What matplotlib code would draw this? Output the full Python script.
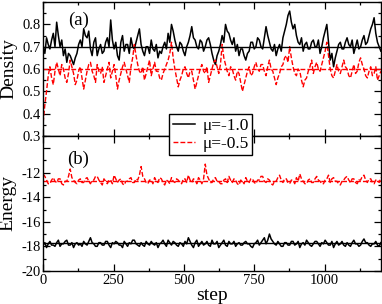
import numpy as np
import matplotlib
matplotlib.use('Agg')
import matplotlib.pyplot as plt
from matplotlib.ticker import MultipleLocator

plt.rcParams['font.family'] = ['Liberation Serif', 'DejaVu Serif']

# density traces, one value every 6 steps from 0 to 1200
dens_m10 = [0.70, 0.67, 0.74, 0.71, 0.69, 0.73, 0.76, 0.70, 0.81, 0.75, 0.70, 0.73, 0.66, 0.69, 0.63, 0.67, 0.66, 0.64, 0.62, 0.65,
            0.67, 0.71, 0.73, 0.70, 0.78, 0.75, 0.74, 0.77, 0.69, 0.66, 0.72, 0.74, 0.66, 0.69, 0.71, 0.67, 0.68, 0.72, 0.74, 0.70,
            0.82, 0.73, 0.69, 0.72, 0.66, 0.64, 0.72, 0.75, 0.68, 0.71, 0.71, 0.67, 0.74, 0.70, 0.69, 0.72, 0.75, 0.78, 0.71, 0.68,
            0.66, 0.70, 0.70, 0.67, 0.73, 0.69, 0.68, 0.71, 0.65, 0.68, 0.67, 0.70, 0.72, 0.69, 0.76, 0.72, 0.80, 0.77, 0.73, 0.70,
            0.68, 0.72, 0.71, 0.68, 0.66, 0.70, 0.72, 0.75, 0.79, 0.74, 0.73, 0.70, 0.69, 0.73, 0.72, 0.68, 0.70, 0.73, 0.74, 0.71,
            0.67, 0.64, 0.62, 0.66, 0.68, 0.71, 0.75, 0.72, 0.80, 0.77, 0.76, 0.73, 0.71, 0.74, 0.68, 0.71, 0.66, 0.69, 0.69, 0.66,
            0.64, 0.67, 0.68, 0.72, 0.72, 0.69, 0.70, 0.74, 0.73, 0.70, 0.69, 0.74, 0.79, 0.75, 0.72, 0.69, 0.68, 0.71, 0.66, 0.69,
            0.71, 0.68, 0.74, 0.77, 0.80, 0.84, 0.86, 0.81, 0.78, 0.80, 0.75, 0.72, 0.71, 0.74, 0.68, 0.71, 0.72, 0.69, 0.69, 0.72,
            0.73, 0.70, 0.70, 0.73, 0.67, 0.70, 0.74, 0.77, 0.80, 0.72, 0.64, 0.67, 0.61, 0.65, 0.68, 0.71, 0.72, 0.69, 0.69, 0.72,
            0.74, 0.71, 0.70, 0.73, 0.67, 0.70, 0.73, 0.69, 0.70, 0.73, 0.75, 0.71, 0.72, 0.75, 0.78, 0.80, 0.83, 0.76, 0.72, 0.70,
            0.68]
dens_m05 = [0.36, 0.44, 0.50, 0.57, 0.61, 0.56, 0.53, 0.59, 0.63, 0.60, 0.57, 0.62, 0.60, 0.56, 0.54, 0.58, 0.64, 0.61, 0.58, 0.53,
            0.55, 0.59, 0.61, 0.56, 0.51, 0.55, 0.59, 0.62, 0.63, 0.59, 0.57, 0.54, 0.62, 0.59, 0.58, 0.61, 0.54, 0.57, 0.60, 0.63,
            0.56, 0.59, 0.62, 0.57, 0.51, 0.55, 0.58, 0.61, 0.63, 0.60, 0.57, 0.54, 0.61, 0.65, 0.71, 0.66, 0.62, 0.59, 0.58, 0.61,
            0.55, 0.58, 0.61, 0.64, 0.57, 0.60, 0.63, 0.59, 0.59, 0.56, 0.55, 0.58, 0.60, 0.62, 0.64, 0.67, 0.72, 0.65, 0.60, 0.56,
            0.52, 0.55, 0.57, 0.60, 0.61, 0.58, 0.56, 0.59, 0.59, 0.55, 0.51, 0.54, 0.57, 0.60, 0.62, 0.59, 0.58, 0.61, 0.54, 0.57,
            0.60, 0.63, 0.64, 0.61, 0.58, 0.62, 0.71, 0.65, 0.62, 0.59, 0.57, 0.61, 0.60, 0.57, 0.55, 0.59, 0.58, 0.54, 0.50, 0.53,
            0.56, 0.59, 0.61, 0.57, 0.58, 0.61, 0.63, 0.60, 0.59, 0.62, 0.62, 0.59, 0.57, 0.61, 0.64, 0.60, 0.59, 0.56, 0.53, 0.56,
            0.58, 0.61, 0.62, 0.65, 0.66, 0.63, 0.70, 0.65, 0.61, 0.58, 0.57, 0.60, 0.59, 0.55, 0.52, 0.55, 0.56, 0.59, 0.61, 0.64,
            0.58, 0.61, 0.63, 0.60, 0.59, 0.62, 0.65, 0.68, 0.72, 0.66, 0.60, 0.57, 0.56, 0.59, 0.62, 0.59, 0.58, 0.61, 0.64, 0.61,
            0.60, 0.57, 0.56, 0.59, 0.62, 0.58, 0.59, 0.63, 0.65, 0.62, 0.60, 0.57, 0.56, 0.59, 0.61, 0.57, 0.58, 0.61, 0.55, 0.57,
            0.59]

# energy traces
ener_m10 = [-17.9, -17.7, -18.1, -17.8, -17.6, -17.9, -17.9, -18.0, -17.7, -17.5, -18.0, -17.8, -17.8, -17.6, -17.5, -17.9, -17.9, -17.7, -18.1, -17.8,
            -17.7, -17.9, -17.8, -18.0, -17.6, -17.8, -17.9, -17.6, -17.3, -17.7, -17.8, -18.0, -18.0, -17.7, -17.7, -17.9, -17.9, -17.6, -17.6, -17.9,
            -18.1, -17.7, -17.8, -17.6, -17.7, -17.9, -17.9, -18.1, -17.6, -17.8, -18.0, -17.7, -17.8, -17.5, -17.5, -17.8, -17.9, -18.0, -17.7, -17.9,
            -18.0, -17.6, -17.8, -17.9, -17.6, -17.8, -17.9, -17.7, -18.1, -17.8, -17.7, -17.5, -17.8, -18.0, -17.5, -17.7, -17.9, -17.6, -17.7, -17.9,
            -18.0, -17.7, -17.8, -18.0, -17.6, -17.8, -17.3, -17.6, -17.9, -18.1, -17.7, -17.5, -18.0, -17.8, -17.6, -17.9, -17.8, -17.6, -17.9, -18.0,
            -17.5, -17.8, -17.8, -17.6, -18.1, -17.9, -17.7, -17.5, -17.9, -18.0, -17.6, -17.8, -17.8, -17.6, -18.0, -17.8, -17.7, -17.9, -17.9, -17.7,
            -17.6, -17.8, -17.8, -18.0, -18.1, -17.8, -17.7, -17.5, -17.9, -17.7, -17.5, -17.3, -17.8, -17.5, -17.0, -17.4, -17.6, -17.8, -17.9, -17.6,
            -17.8, -18.0, -18.0, -17.7, -17.7, -17.9, -17.9, -17.6, -17.6, -17.9, -17.8, -17.6, -18.1, -17.8, -17.7, -17.9, -17.5, -17.7, -17.9, -18.0,
            -17.8, -17.6, -17.6, -17.8, -18.0, -17.7, -17.8, -17.5, -17.7, -17.9, -17.9, -17.6, -18.1, -17.8, -17.6, -17.9, -17.8, -17.6, -17.9, -18.0,
            -17.7, -17.9, -18.0, -17.7, -17.5, -17.8, -17.8, -18.0, -17.9, -17.6, -17.4, -17.7, -17.7, -17.9, -18.0, -17.8, -17.8, -17.6, -17.9, -18.0,
            -17.7]
ener_m05 = [-12.1, -12.3, -12.6, -12.9, -12.9, -12.6, -12.4, -12.7, -12.8, -12.5, -12.5, -12.9, -13.0, -12.7, -12.7, -12.3, -11.7, -12.4, -12.6, -12.8,
            -12.9, -12.6, -12.5, -12.8, -12.8, -12.5, -12.4, -12.7, -12.9, -12.6, -12.6, -12.3, -12.3, -12.6, -12.8, -13.0, -12.5, -12.7, -12.9, -12.6,
            -12.6, -12.9, -12.2, -12.5, -12.8, -12.6, -12.5, -12.9, -13.0, -12.7, -12.7, -12.5, -12.4, -12.8, -12.8, -12.5, -12.6, -12.2, -11.5, -12.3,
            -12.5, -12.8, -12.9, -12.6, -12.6, -12.9, -12.4, -12.7, -12.8, -12.4, -12.5, -12.8, -13.0, -12.6, -12.7, -12.9, -12.4, -12.7, -12.8, -12.5,
            -12.6, -12.8, -12.9, -12.5, -12.5, -12.8, -12.2, -12.6, -12.8, -12.5, -12.6, -12.9, -12.4, -12.6, -12.9, -12.5, -11.3, -12.2, -12.5, -12.8,
            -12.8, -12.5, -12.4, -12.7, -12.7, -12.9, -12.9, -12.6, -12.5, -12.8, -12.3, -12.6, -12.8, -12.5, -12.6, -12.9, -13.0, -12.6, -12.7, -12.9,
            -12.4, -12.7, -12.8, -12.5, -12.5, -12.8, -12.9, -12.6, -12.6, -12.3, -12.3, -12.7, -12.8, -12.5, -12.6, -12.9, -13.0, -12.7, -12.7, -12.4,
            -12.2, -12.6, -12.8, -12.5, -12.5, -12.8, -12.9, -12.6, -12.6, -12.9, -12.4, -12.7, -12.1, -12.5, -12.7, -12.9, -12.9, -12.6, -12.5, -12.8,
            -12.8, -12.5, -12.3, -12.6, -12.7, -12.9, -12.9, -12.6, -12.5, -12.2, -12.8, -12.5, -12.4, -12.7, -12.7, -12.9, -13.0, -12.7, -12.6, -12.4,
            -12.3, -12.6, -12.8, -12.5, -12.5, -12.8, -12.9, -12.6, -12.6, -12.3, -12.2, -12.6, -12.8, -12.5, -12.5, -12.8, -12.9, -12.6, -12.6, -12.8,
            -12.4]

# average lines
dens_avg = [0.70, 0.60]
ener_avg = [-17.7, -12.7]

labels = ['\u03bc=-1.0', '\u03bc=-0.5']

fig = plt.figure(figsize=(3.82, 3.04), dpi=100)
ax1 = fig.add_axes([0.113, 0.553, 0.884, 0.44])
ax2 = fig.add_axes([0.113, 0.109, 0.884, 0.444])

dash = (0, (3.5, 1.5))

s1 = np.linspace(0, 1200, len(dens_m10))
s2 = np.linspace(0, 1200, len(dens_m05))
ax1.plot(s1, dens_m10, color='black', lw=1.1)
ax1.plot(s2, dens_m05, color='red', lw=1.0, ls=dash)
ax1.axhline(dens_avg[0], color='black', lw=1.0)
ax1.axhline(dens_avg[1], color='red', lw=1.0, ls=dash)

s3 = np.linspace(0, 1200, len(ener_m10))
s4 = np.linspace(0, 1200, len(ener_m05))
l1, = ax2.plot(s3, ener_m10, color='black', lw=1.1)
l2, = ax2.plot(s4, ener_m05, color='red', lw=1.0, ls=dash)
ax2.axhline(ener_avg[0], color='black', lw=1.0)
ax2.axhline(ener_avg[1], color='red', lw=1.0, ls=dash)

ax1.set_ylim(0.3, 0.9)
ax1.set_yticks([0.3, 0.4, 0.5, 0.6, 0.7, 0.8])
ax1.yaxis.set_minor_locator(MultipleLocator(0.05))
ax2.set_ylim(-20, -9)
ax2.set_yticks([-20, -18, -16, -14, -12, -10])
ax2.set_yticklabels(['-20', '-18', '-16', '-14', '-12', ''])
ax2.yaxis.set_minor_locator(MultipleLocator(1))

for ax in (ax1, ax2):
    ax.set_xlim(0, 1200)
    ax.set_xticks([0, 250, 500, 750, 1000])
    ax.xaxis.set_minor_locator(MultipleLocator(125))
    ax.tick_params(which='both', direction='in', top=True, right=True, labelsize=10.5, pad=2)
    ax.tick_params(which='major', length=5, width=0.9)
    ax.tick_params(which='minor', length=2.5, width=0.9)
    for sp in ax.spines.values():
        sp.set_linewidth(1.0)
ax1.tick_params(labelbottom=False)

ax1.set_ylabel('Density', fontsize=14, labelpad=3)
ax2.set_ylabel('Energy', fontsize=14, labelpad=3)
ax2.set_xlabel('step', fontsize=14, labelpad=0)

ax1.text(0.075, 0.83, '(a)', transform=ax1.transAxes, fontsize=13.5)
ax2.text(0.07, 0.79, '(b)', transform=ax2.transAxes, fontsize=13.5)

leg = fig.legend([l1, l2], labels, loc='center', bbox_to_anchor=(0.552, 0.557),
                 fontsize=12.5, frameon=True, fancybox=False, handlelength=1.3,
                 handletextpad=0.4, borderpad=0.2, labelspacing=0.1, borderaxespad=0)
leg.get_frame().set_edgecolor('black')
leg.get_frame().set_linewidth(1.0)
leg.get_frame().set_alpha(1)

fig.savefig('out.png', dpi=100)
